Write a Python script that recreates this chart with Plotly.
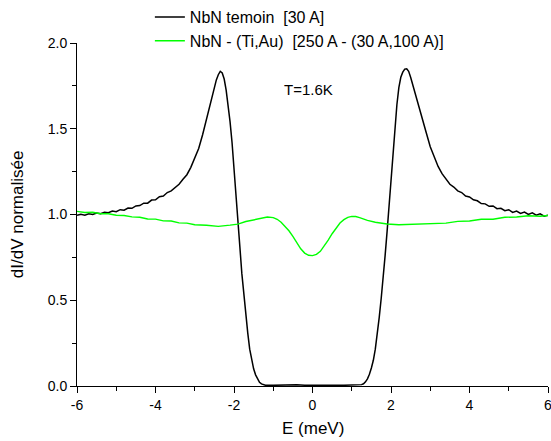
import plotly.graph_objects as go

# ---- data ----
e_black = [-6.0, -5.9, -5.8, -5.7, -5.6, -5.5, -5.4, -5.3, -5.2, -5.1, -5.0, -4.9, -4.8, -4.7,
           -4.6, -4.5, -4.4, -4.3, -4.2, -4.1, -4.0, -3.9, -3.8, -3.7, -3.6, -3.5, -3.4, -3.3,
           -3.2, -3.1, -3.0, -2.9, -2.8, -2.7, -2.6, -2.5, -2.45, -2.4, -2.35, -2.3, -2.25, -2.2,
           -2.15, -2.1, -2.05, -2.0, -1.95, -1.9, -1.85, -1.8, -1.75, -1.7, -1.65, -1.6, -1.55,
           -1.5, -1.45, -1.4, -1.35, -1.3, -1.25, -1.2, -1.0, -0.8, -0.6, -0.4, -0.2, 0.0,
           0.2, 0.4, 0.6, 0.8, 1.0, 1.2, 1.25, 1.3, 1.35, 1.4, 1.45, 1.5, 1.55, 1.6, 1.65,
           1.7, 1.75, 1.8, 1.85, 1.9, 1.95, 2.0, 2.05, 2.1, 2.15, 2.2, 2.25, 2.3, 2.35, 2.4,
           2.45, 2.5, 2.6, 2.7, 2.8, 2.9, 3.0, 3.1, 3.2, 3.3, 3.4, 3.5, 3.6, 3.7, 3.8, 3.9,
           4.0, 4.1, 4.2, 4.3, 4.4, 4.5, 4.6, 4.7, 4.8, 4.9, 5.0, 5.1, 5.2, 5.3, 5.4, 5.5,
           5.6, 5.7, 5.8, 5.9, 6.0]
g_black = [0.995, 1.002, 0.996, 1.004, 1.000, 1.009, 1.004, 1.013, 1.010, 1.020, 1.016, 1.028,
           1.025, 1.038, 1.036, 1.050, 1.052, 1.066, 1.066, 1.084, 1.086, 1.104, 1.108, 1.128,
           1.138, 1.160, 1.176, 1.205, 1.232, 1.275, 1.325, 1.385, 1.465, 1.560, 1.660, 1.745,
           1.785, 1.815, 1.835, 1.825, 1.790, 1.725, 1.640, 1.540, 1.420, 1.280, 1.120, 0.970,
           0.810, 0.655, 0.530, 0.420, 0.310, 0.215, 0.150, 0.100, 0.065, 0.040, 0.022, 0.012,
           0.007, 0.005, 0.004, 0.006, 0.004, 0.007, 0.005, 0.006, 0.004, 0.006, 0.005, 0.004,
           0.005, 0.006, 0.008, 0.013, 0.024, 0.042, 0.068, 0.105, 0.150, 0.215, 0.300, 0.400,
           0.510, 0.625, 0.760, 0.900, 1.050, 1.210, 1.370, 1.510, 1.640, 1.740, 1.800, 1.830,
           1.848, 1.850, 1.835, 1.800, 1.715, 1.630, 1.550, 1.475, 1.395, 1.335, 1.280, 1.238,
           1.205, 1.176, 1.160, 1.138, 1.128, 1.108, 1.102, 1.086, 1.080, 1.064, 1.062, 1.048,
           1.050, 1.034, 1.036, 1.022, 1.028, 1.012, 1.020, 1.006, 1.014, 1.000, 1.010, 0.996,
           1.004, 0.990, 0.996]

e_green = [-6.0, -5.8, -5.6, -5.4, -5.2, -5.0, -4.8, -4.6, -4.4, -4.2, -4.0, -3.8, -3.6, -3.4,
           -3.2, -3.0, -2.7, -2.4, -2.1, -1.9, -1.7, -1.5, -1.3, -1.15, -1.0, -0.9, -0.8, -0.7,
           -0.6, -0.5, -0.4, -0.3, -0.2, -0.1, 0.0, 0.1, 0.2, 0.3, 0.4, 0.5, 0.6, 0.7, 0.8,
           0.9, 1.0, 1.1, 1.2, 1.4, 1.6, 1.9, 2.2, 2.5, 2.8, 3.1, 3.4, 3.7, 4.0, 4.3, 4.6,
           4.9, 5.2, 5.5, 5.8, 6.0]
g_green = [1.018, 1.012, 1.013, 1.004, 1.004, 0.996, 0.994, 0.986, 0.984, 0.974, 0.973, 0.963,
           0.962, 0.951, 0.950, 0.940, 0.937, 0.931, 0.938, 0.944, 0.959, 0.968, 0.981, 0.985,
           0.982, 0.972, 0.955, 0.932, 0.905, 0.872, 0.835, 0.800, 0.775, 0.762, 0.760, 0.768,
           0.785, 0.815, 0.850, 0.888, 0.922, 0.950, 0.970, 0.983, 0.989, 0.988, 0.982, 0.966,
           0.955, 0.945, 0.940, 0.943, 0.944, 0.951, 0.950, 0.960, 0.962, 0.972, 0.972, 0.984,
           0.985, 0.993, 0.990, 0.994]

name_black = "NbN temoin \u00a0[30 A]"
name_green = "NbN - (Ti,Au) \u00a0[250 A - (30 A,100 A)]"
x_ticks = [-6, -4, -2, 0, 2, 4, 6]
y_ticks = [0.0, 0.5, 1.0, 1.5, 2.0]
x_title = "E (meV)"
y_title = "dI/dV normalisée"

FONT = "Liberation Sans, Arial, sans-serif"

fig = go.Figure()
fig.add_trace(go.Scatter(x=e_black, y=g_black, mode="lines", name=name_black,
                         line=dict(color="black", width=1.5)))
fig.add_trace(go.Scatter(x=e_green, y=g_green, mode="lines", name=name_green,
                         line=dict(color="#00ff00", width=1.4)))

fig.add_annotation(x=-0.11, y=1.73, text="T=1.6K", showarrow=False,
                   font=dict(family=FONT, size=15, color="black"))

# axis titles placed as text relative to the plot area
fig.add_annotation(xref="paper", yref="paper", x=0.5, y=-0.09, yanchor="top",
                   text=x_title, showarrow=False,
                   font=dict(family=FONT, size=17, color="black"))
fig.add_annotation(xref="paper", yref="paper", x=-0.126, y=0.5, xanchor="center",
                   text=y_title, textangle=-90, showarrow=False,
                   font=dict(family=FONT, size=17, color="black"))

axis_common = dict(showline=True, linecolor="black", linewidth=1, showgrid=False,
                   zeroline=False, ticks="outside", ticklen=6, tickwidth=1,
                   tickcolor="black", mirror=False,
                   ticklabeloverflow="allow",
                   tickfont=dict(family=FONT, size=14, color="black"))

fig.update_xaxes(range=[-6, 6], tickvals=x_ticks, ticktext=[str(v) for v in x_ticks],
                 minor=dict(ticks="outside", ticklen=4, dtick=1, tick0=-6, tickcolor="black"),
                 **axis_common)
fig.update_yaxes(range=[0, 2], tickvals=y_ticks, ticktext=[f"{v:.1f}" for v in y_ticks],
                 minor=dict(ticks="outside", ticklen=4, dtick=0.25, tick0=0, tickcolor="black"),
                 **axis_common)

fig.update_layout(
    width=551, height=441,
    margin=dict(l=77, r=3, t=43, b=55, autoexpand=False),
    paper_bgcolor="white", plot_bgcolor="white",
    showlegend=True,
    legend=dict(xref="container", yref="container", x=0.272, y=1.0,
                xanchor="left", yanchor="top",
                bgcolor="rgba(0,0,0,0)", font=dict(family=FONT, size=16, color="black"),
                tracegroupgap=0, itemwidth=30),
)

fig.write_html("out.html", config={"displayModeBar": False},
               post_script="document.body.style.margin='0';document.body.style.padding='0';")
